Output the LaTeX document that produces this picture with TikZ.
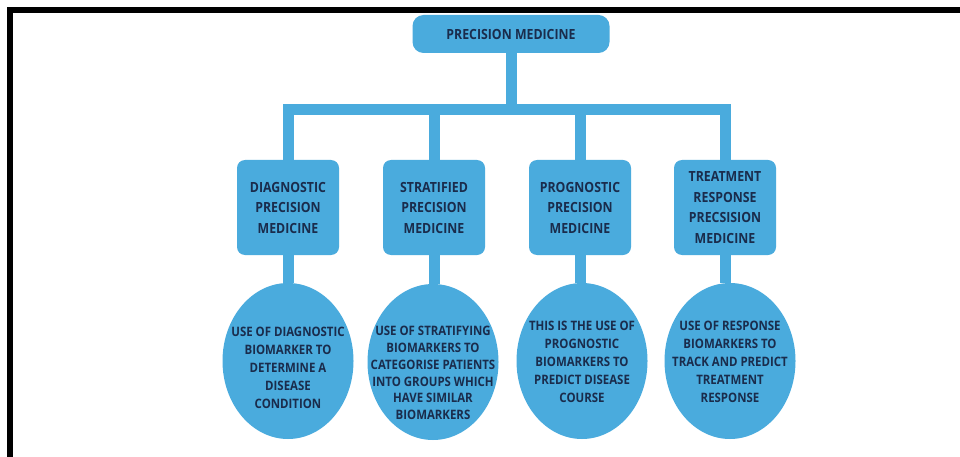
\documentclass[tikz,border=0pt]{standalone}
\usepackage{fontspec}
\setmainfont{Open Sans}[FakeStretch=0.88]
\usetikzlibrary{shapes.geometric}
\definecolor{pmblue}{RGB}{74,171,221}
\definecolor{pmtext}{RGB}{26,44,76}
\begin{document}
\begin{tikzpicture}[x=1pt,y=-1pt,
  topbox/.style={fill=pmblue, rounded corners=11pt, minimum width=197pt, minimum height=38pt,
    inner sep=0pt, font=\fontsize{14}{17}\selectfont\bfseries, text=pmtext},
  subbox/.style={fill=pmblue, rounded corners=8pt, minimum width=102pt, minimum height=95pt,
    inner sep=0pt, align=center, font=\fontsize{14}{20.5}\selectfont\bfseries, text=pmtext},
  oval/.style={ellipse, fill=pmblue, minimum width=131pt, minimum height=156pt, inner sep=0pt},
  ovaltext/.style={align=center, inner sep=0pt, font=\fontsize{13}{18}\selectfont\bfseries, text=pmtext},
  conn/.style={draw=pmblue, line width=11pt, line join=miter}]
\useasboundingbox (0,0) rectangle (960,457);
\fill[white] (0,0) rectangle (960,457);
% frame
\draw[line width=6pt, line join=miter] (10,457) -- (10,10.5) -- (960,10.5);
\coordinate (bus) at (0,109.5);
\node[topbox] (top) at (511,34) {PRECISION MEDICINE};
\node[subbox] (b1) at (288,207.5) {DIAGNOSTIC\\PRECISION\\MEDICINE};
\node[subbox] (b2) at (434,207.5) {STRATIFIED\\PRECISION\\MEDICINE};
\node[subbox] (b3) at (580,207.5) {PROGNOSTIC\\PRECISION\\MEDICINE};
\node[subbox] (b4) at (725,207.5) {TREATMENT\\RESPONSE\\PRECSISION\\MEDICINE};
\node[oval] (e1) at (288,361) {};
\node[oval] (e2) at (433,362) {};
\node[oval] (e3) at (582,361) {};
\node[oval] (e4) at (730,361) {};
\draw[conn] (top.south) -- (top.south |- bus);
\draw[conn] (b1.north) -- (b1.north |- bus) -- (b4.north |- bus) -- (b4.north);
\draw[conn] (b2.north) -- (b2.north |- bus);
\draw[conn] (b3.north) -- (b3.north |- bus);
\draw[conn] (b1.south) -- (b1.south |- e1.north);
\draw[conn] (b2.south) -- (b2.south |- e2.north);
\draw[conn] (b3.south) -- (b3.south |- e3.north);
\draw[conn] (b4.south) -- (b4.south |- e4.north);
\node[ovaltext] (t1) at (288,368) {USE OF DIAGNOSTIC\\BIOMARKER TO\\DETERMINE A\\DISEASE\\CONDITION};
\node[ovaltext, font=\fontsize{13}{16.8}\selectfont\bfseries] (t2) at (433,373) {USE OF STRATIFYING\\BIOMARKERS TO\\CATEGORISE PATIENTS\\INTO GROUPS WHICH\\HAVE SIMILAR\\BIOMARKERS};
\node[ovaltext] (t3) at (582,362) {THIS IS THE USE OF\\PROGNOSTIC\\BIOMARKERS TO\\PREDICT DISEASE\\COURSE};
\node[ovaltext] (t4) at (730,362) {USE OF RESPONSE\\BIOMARKERS TO\\TRACK AND PREDICT\\TREATMENT\\RESPONSE};
\end{tikzpicture}
\end{document}
